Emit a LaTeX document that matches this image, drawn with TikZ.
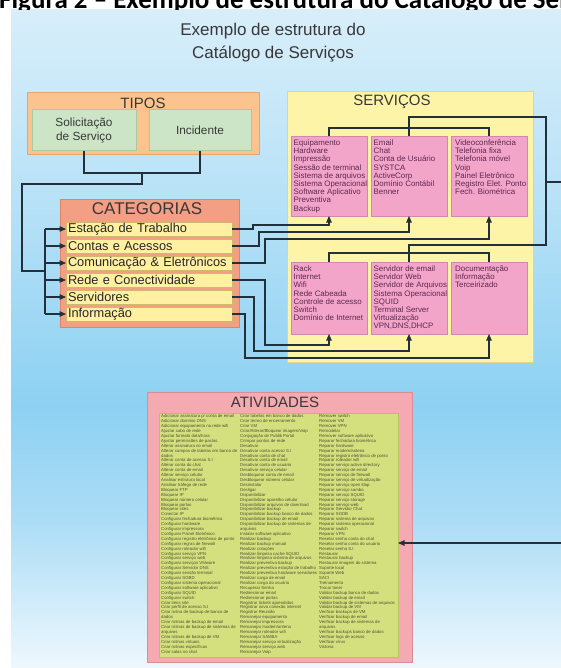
\documentclass[tikz,border=0pt]{standalone}
\usepackage{fontspec}
\setmainfont{Liberation Sans}
\newfontfamily\figfont{Carlito}
\usetikzlibrary{arrows.meta}
\definecolor{bgA}{HTML}{EEF8FD}
\definecolor{bgB}{HTML}{ADDDF6}
\definecolor{bgC}{HTML}{8DD1F2}
\definecolor{bgD}{HTML}{B6E1F7}
\definecolor{bgE}{HTML}{D8EEFA}
\definecolor{tipoF}{HTML}{FBC48F}
\definecolor{tipoD}{HTML}{E6A66A}
\definecolor{solF}{HTML}{CBE5C6}
\definecolor{solD}{HTML}{A9C9A3}
\definecolor{catF}{HTML}{F39F84}
\definecolor{catD}{HTML}{DE8469}
\definecolor{itemF}{HTML}{FFF1A1}
\definecolor{itemD}{HTML}{D2B96A}
\definecolor{svcF}{HTML}{FDF4A8}
\definecolor{svcD}{HTML}{E3D488}
\definecolor{pinkF}{HTML}{F2A5C9}
\definecolor{pinkD}{HTML}{D486AE}
\definecolor{ativF}{HTML}{F5A9B1}
\definecolor{ativD}{HTML}{DD8C96}
\definecolor{greenF}{HTML}{D4E07D}
\definecolor{greenD}{HTML}{B4C260}
\definecolor{linec}{HTML}{22303C}
\definecolor{pinktext}{HTML}{5E2752}
\definecolor{ativtext}{HTML}{4E5034}
\definecolor{titlec}{HTML}{383838}
\pgfdeclareverticalshading{bgshade}{100bp}{color(0bp)=(bgA); color(25bp)=(bgA); color(36bp)=(bgB); color(45bp)=(bgC); color(60bp)=(bgD); color(75bp)=(bgE); color(100bp)=(bgE)}
\begin{document}
\begin{tikzpicture}[x=1pt,y=-1pt,
  box/.style={draw, line width=1pt, inner sep=0pt, outer sep=0pt, anchor=north west},
  tipobox/.style={box, fill=tipoF, draw=tipoD, minimum width=232pt, minimum height=62pt},
  solbox/.style={box, fill=solF, draw=solD, minimum height=41pt, align=center, text=titlec, font=\fontsize{11.8}{14}\selectfont},
  catbox/.style={box, fill=catF, draw=catD, minimum width=179pt, minimum height=127pt},
  catitem/.style={box, fill=itemF, draw=itemD, minimum height=14pt, text width=162pt, inner xsep=2pt, align=left, text=black!85, font=\fontsize{12.8}{14}\selectfont},
  svcbox/.style={box, fill=svcF, draw=svcD, minimum width=246pt, minimum height=270pt},
  pinkbox/.style={box, fill=pinkF, draw=pinkD, line width=0.8pt, minimum width=76pt},
  svctext/.style={anchor=north west, inner sep=0pt, align=left, text=pinktext, font=\fontsize{7.9}{8.2}\selectfont},
  ativbox/.style={box, fill=ativF, draw=ativD, minimum width=265pt, minimum height=270pt},
  greenbox/.style={box, fill=greenF, draw=greenD, minimum width=239pt, minimum height=244pt},
  ativtxt/.style={anchor=north west, inner sep=0pt, align=left, text=ativtext, font=\fontsize{4.3}{4.9}\selectfont},
  boxtitle/.style={inner sep=0pt, text=titlec},
  conn/.style={draw=linec, line width=1.1pt},
  arr/.style={conn, -{Triangle[length=6.5pt,width=5.5pt]}}
]
\useasboundingbox (0,0) rectangle (561,668);
\fill[white] (0,0) rectangle (561,668);
\shade[shading=bgshade] (11,10) rectangle (561,668);
\begin{scope}
  \clip (0,0) rectangle (561,10);
  \node[anchor=base west, inner sep=0pt, font=\figfont\bfseries\fontsize{27}{30}\selectfont] (fig) at (-1,9) {Figura 2 – Exemplo de estrutura do Catálogo de Serviços};
\end{scope}
\node[boxtitle, align=center, font=\fontsize{17}{23}\selectfont] (title) at (273,43) {Exemplo de estrutura do\\Catálogo de Serviços};

% TIPOS
\node[tipobox] (tipos) at (27,93) {};
\node[boxtitle, font=\fontsize{15}{17}\selectfont] (tiposT) at (143,103) {TIPOS};
\node[solbox, minimum width=104pt] (sol) at (32,110) {Solicitação\\de Serviço};
\node[solbox, minimum width=102pt] (inc) at (149,110) {Incidente};

% CATEGORIAS
\node[catbox] (cats) at (60,200) {};
\node[boxtitle, font=\fontsize{17}{19}\selectfont] (catsT) at (147,209) {CATEGORIAS};
\node[catitem] (cat1) at (66,222) {Estação de Trabalho};
\node[catitem] (cat2) at (66,239) {Contas e Acessos};
\node[catitem] (cat3) at (66,256) {Comunicação \& Eletrônicos};
\node[catitem] (cat4) at (66,273) {Rede e Conectividade};
\node[catitem] (cat5) at (66,290) {Servidores};
\node[catitem] (cat6) at (66,307) {Informação};

% SERVICOS
\node[svcbox] (svcs) at (287,92) {};
\node[boxtitle, font=\fontsize{15}{17}\selectfont] (svcsT) at (392,102) {SERVIÇOS};
\node[pinkbox, minimum height=80pt] (sA) at (291,136) {};
\node[pinkbox, minimum height=80pt] (sB) at (371,136) {};
\node[pinkbox, minimum height=80pt] (sC) at (451,136) {};
\node[pinkbox, minimum height=72pt] (sD) at (291,262) {};
\node[pinkbox, minimum height=72pt] (sE) at (371,262) {};
\node[pinkbox, minimum height=72pt] (sF) at (451,262) {};
\node[svctext] (sAt) at (293.5,139.5) {Equipamento\\Hardware\\Impressão\\Sessão de terminal\\Sistema de arquivos\\Sistema Operacional\\Software Aplicativo\\Preventiva\\Backup};
\node[svctext] (sBt) at (373.5,139.5) {Email\\Chat\\Conta de Usuário\\SYSTCA\\ActiveCorp\\Domínio Contábil\\Benner};
\node[svctext] (sCt) at (455,139.5) {Videoconferência\\Telefonia fixa\\Telefonia móvel\\Voip\\Painel Eletrônico\\Registro Elet. Ponto\\Fech. Biométrica};
\node[svctext] (sDt) at (293.5,265.5) {Rack\\Internet\\Wifi\\Rede Cabeada\\Controle de acesso\\Switch\\Domínio de Internet};
\node[svctext] (sEt) at (373.5,265.5) {Servidor de email\\Servidor Web\\Servidor de Arquivos\\Sistema Operacional\\SQUID\\Terminal Server\\Virtualização\\VPN,DNS,DHCP};
\node[svctext] (sFt) at (455,265.5) {Documentação\\Informação\\Terceirizado};

% ATIVIDADES
\node[ativbox] (ativ) at (147,392) {};
\node[boxtitle, font=\fontsize{15}{17}\selectfont] (ativT) at (275,402) {ATIVIDADES};
\node[greenbox] (ativIn) at (159,413) {};
\node[ativtxt] (col1) at (161,414.5) {Adicionar assinatura p/ conta de email\\Adicionar domínio DNS\\Adicionar equipamento na rede wifi\\Ajustar cabo de rede\\Ajustar formato data/hora\\Ajustar permissões de pastas\\Alterar assinatura no email\\Alterar campos de tabelas em banco de\\dados\\Alterar conta de acesso S.I\\Alterar conta do chat\\Alterar conta de email\\Alterar serviço celular\\Analisar estrutura local\\Analisar tráfego de rede\\Bloquear FTP\\Bloquear IP\\Bloquear número celular\\Bloquear portas\\Bloquear sites\\Conectar IP\\Configurar fechadura biométrica\\Configurar hardware\\Configurar impressora\\Configurar Painel Eletrônico\\Configurar registro eletrônico de ponto\\Configurar regras de firewall\\Configurar roteador wifi\\Configurar serviço VPN\\Configurar serviço web\\Configurar serviços VMware\\Configurar Servidor DNS\\Configurar sessão terminal\\Configurar SGBD\\Configurar sistema operacional\\Configurar software aplicativo\\Configurar SQUID\\Configurar switch\\Criar itens site\\Criar perfil de acesso S.I\\Criar rotina de backup de banco de\\dados\\Criar rotinas de backup de email\\Criar rotinas de backup de sistemas de\\arquivos\\Criar rotinas de backup de VM\\Criar rotinas virtuais\\Criar rotinas específicas\\Criar salas no chat};
\node[ativtxt] (col2) at (240,414.5) {Criar tabelas em banco de dados\\Criar termo de encerramento\\Criar VM\\Criar/Alterar/Bloquear imagem/Voip\\Conjugação de Publik Portal\\Crimpar pontos de rede\\Desativar\\Desativar conta acesso S.I\\Desativar conta de chat\\Desativar conta de email\\Desativar conta de usuário\\Desativar serviço celular\\Desbloquear conta de email\\Desbloquear número celular\\Desinstalar\\Desligar\\Disponibilizar\\Disponibilizar aparelho celular\\Disponibilizar arquivos de download\\Disponibilizar backup\\Disponibilizar backup banco de dados\\Disponibilizar backup de email\\Disponibilizar backup de sistemas de\\arquivos\\Instalar software aplicativo\\Realizar backup\\Realizar backup manual\\Realizar cotações\\Realizar limpeza cache SQUID\\Realizar limpeza sistema de arquivos\\Realizar preventiva backup\\Realizar preventiva estação de trabalho\\Realizar preventiva hardware servidores\\Realizar carga de email\\Realizar carga do usuário\\Recuperar Senha\\Redirecionar email\\Redirecionar portas\\Registrar tickets aprendidos\\Registrar nova conexão internet\\Registrar Reunião\\Remanejar equipamento\\Remanejar impressora\\Remanejar modem/antena\\Remanejar roteador wifi\\Remanejar SAMBA\\Remanejar serviço virtualização\\Remanejar serviço web\\Remanejar Voip};
\node[ativtxt] (col3) at (319,414.5) {Remover switch\\Remover VM\\Remover VPN\\Remodelar\\Remover software aplicativo\\Reparar fechadura biométrica\\Reparar hardware\\Reparar modem/antena\\Reparar registro eletrônico de ponto\\Reparar roteador wifi\\Reparar serviço active directory\\Reparar serviço de email\\Reparar serviço de firewall\\Reparar serviço de virtualização\\Reparar serviço open ldap\\Reparar serviço samba\\Reparar serviço SQUID\\Reparar serviço storage\\Reparar serviço web\\Reparar Servidor Chat\\Reparar SGDB\\Reparar sistema de arquivos\\Reparar sistema operacional\\Reparar switch\\Reparar VPN\\Resetar senha conta do chat\\Resetar senha conta do usuário\\Resetar senha S.I\\Restaurar\\Restaurar backup\\Restaurar imagem do sistema\\Suporte local\\Suporte Web\\SACI\\Treinamento\\Trocar toner\\Validar backup banco de dados\\Validar backup de email\\Validar backup de sistemas de arquivos\\Validar backup de VM\\Verificar backups de VM\\Verificar backup de email\\Verificar backup de sistemas de\\arquivos\\Verificar backups banco de dados\\Verificar logs de acesso\\Verificar vírus\\Vistoria};

% connectors: TIPOS -> CATEGORIAS
\coordinate (tjoin) at (142,173);
\coordinate (tdrop) at (142,184);
\coordinate (lbend) at (22,271);
\coordinate (bjoin) at (45,271);
\coordinate (busTop) at (45,229);
\coordinate (busBot) at (45,314);
\draw[conn] (sol.south) |- (tjoin) -| (inc.south);
\draw[conn] (tjoin) -- (tdrop) -| (lbend) -- (bjoin);
\draw[conn] (busTop) -- (busBot);
\foreach \c in {cat1,cat2,cat3,cat4,cat5,cat6}{
  \draw[arr] (busTop |- \c.west) -- (\c.west);
}

% CATEGORIAS -> SERVICOS
\coordinate (c1a) at (253,225);
\coordinate (c2a) at (259,232);
\coordinate (c3a) at (265,239);
\coordinate (c4a) at (265,345);
\coordinate (c5a) at (254,351);
\coordinate (c6a) at (245,358);
\draw[arr] (cat1.east) -| (c1a) -| (sA.south);
\draw[arr] (cat2.east) -| (c2a) -| (sB.south);
\draw[arr] (cat3.east) -| (c3a) -| (sC.south);
\draw[arr] (cat4.east) -| (c4a) -| (sD.south);
\draw[arr] (cat5.east) -| (c5a) -| (sE.south);
\draw[arr] (cat6.east) -| (c6a) -| (sF.south);

% service brackets
\coordinate (b1) at (409,128);
\coordinate (jt1) at (409,117);
\coordinate (jr1) at (546,117);
\coordinate (jr2) at (546,245);
\coordinate (jt2) at (409,245);
\coordinate (b2) at (409,253);
\coordinate (redge1) at (561,182);
\draw[conn] (sA.north) |- (b1) -| (sC.north);
\draw[conn] (sB.north) -- (jt1) -- (jr1) -- (jr2) -- (jt2) -- (sE.north);
\draw[conn] (sD.north) |- (b2) -| (sF.north);
\draw[conn] (redge1) -- (jr1 |- redge1);

% arrow into ATIVIDADES
\coordinate (redge2) at (561,543);
\draw[arr] (redge2) -- (ativIn.east |- redge2);
\end{tikzpicture}
\end{document}
